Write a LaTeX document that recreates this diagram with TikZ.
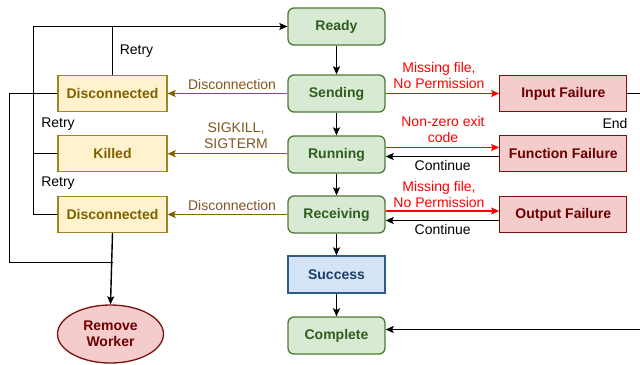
\documentclass[tikz,border=0pt]{standalone}
\usepackage{fontspec}
\setmainfont{Liberation Sans}
\usetikzlibrary{arrows.meta,shapes.geometric}

\definecolor{gfill}{HTML}{D8EAD3}
\definecolor{gline}{HTML}{4E7A35}
\definecolor{gtext}{HTML}{2F5D1E}
\definecolor{yfill}{HTML}{FFF2CC}
\definecolor{yline}{HTML}{A08428}
\definecolor{ytext}{HTML}{7F6000}
\definecolor{rfill}{HTML}{F4CCCC}
\definecolor{rline}{HTML}{7A1010}
\definecolor{rtext}{HTML}{6B0000}
\definecolor{bfill}{HTML}{D4E4F6}
\definecolor{bline}{HTML}{2E5C8A}
\definecolor{btext}{HTML}{1C3F66}
\definecolor{brn}{HTML}{806000}
\definecolor{brntext}{HTML}{7F5520}
\definecolor{alert}{HTML}{FF0000}

\tikzset{
  txt/.style={font=\fontsize{14bp}{16bp}\selectfont, align=center, inner sep=0pt},
  boxbase/.style={txt, font=\fontsize{14bp}{16bp}\selectfont\bfseries, line width=1.3bp},
  state/.style={boxbase, draw=gline, fill=gfill, text=gtext, rounded corners=6bp,
    minimum width=97bp, minimum height=37bp},
  done/.style={boxbase, draw=bline, fill=bfill, text=btext,
    minimum width=97bp, minimum height=37bp},
  lost/.style={boxbase, draw=yline, fill=yfill, text=ytext,
    minimum width=109bp, minimum height=36bp},
  fail/.style={boxbase, draw=rline, fill=rfill, text=rtext,
    minimum width=127bp, minimum height=36bp},
  endpt/.style={boxbase, ellipse, draw=rline, fill=rfill, text=rtext,
    minimum width=106bp, minimum height=58bp},
  wire/.style={line width=1.4bp, draw=black},
  flow/.style={wire, -{Stealth[length=8bp,width=7bp,inset=1.5bp]}},
  brnflow/.style={flow, draw=brn},
  redflow/.style={flow, draw=alert},
}

\begin{document}
\begin{tikzpicture}[x=1bp,y=-1bp]
\useasboundingbox (0,0) rectangle (640,364);

% main pipeline
\node[state] (ready)     at (336.5, 26.5)  {Ready};
\node[state] (sending)   at (336.5, 93.5)  {Sending};
\node[state] (running)   at (336.5, 154.5) {Running};
\node[state] (receiving) at (336.5, 214.5) {Receiving};
\node[done]  (success)   at (336.5, 274.5) {Success};
\node[state] (complete)  at (336.5, 335.5) {Complete};

% worker-side states
\node[lost] (disc1)  at (112.5, 93.5)  {Disconnected};
\node[lost] (killed) at (112.5, 153.7) {Killed};
\node[lost] (disc2)  at (112.5, 214.5) {Disconnected};
\node[endpt] (remove) at (110.5, 334)  {Remove\\Worker};

% task failures
\node[fail] (infail)  at (563.3, 93.5)  {Input Failure};
\node[fail] (funfail) at (563.3, 153.4) {Function Failure};
\node[fail] (outfail) at (563.3, 214.5) {Output Failure};

% helper coordinates
\coordinate (leftbus)  at (33.5, 26.5);
\coordinate (farleft)  at (9.5, 93.5);
\coordinate (merge)    at (112.5, 262.5);
\coordinate (farright) at (652, 93.5);
\coordinate (runout)   at (0, 147.5);
\coordinate (runback)  at (0, 156.5);
\coordinate (recout)   at (0, 211);
\coordinate (recback)  at (0, 220.5);
\coordinate (compin)   at (0, 329.5);

% pipeline arrows
\draw[flow] (ready) -- (sending);
\draw[flow] (sending) -- (running);
\draw[flow] (running) -- (receiving);
\draw[flow] (receiving) -- (success);
\draw[flow] (success) -- (complete);

% disconnections and kills
\draw[brnflow] (sending) -- (disc1);
\draw[brnflow] (running.west |- killed) -- (killed);
\draw[brnflow] (receiving) -- (disc2);

% failures
\draw[redflow] (sending) -- (infail);
\draw[redflow] (running.east |- runout) -- (funfail.west |- runout);
\draw[flow] (funfail.west |- runback) -- (running.east |- runback);
\draw[redflow] (receiving.east |- recout) -- (outfail.west |- recout);
\draw[flow] (outfail.west |- recback) -- (receiving.east |- recback);
\draw[flow] (infail.east) -- (farright) -- (farright |- compin) -- (complete.east |- compin);

% retries
\draw[flow] (disc2.west) -| (leftbus) -- (ready.west);
\draw[wire] (killed.west) -- (leftbus |- killed.west);
\draw[wire] (disc1.north) -- (disc1.north |- ready.west);

% removal
\draw[wire] (disc1.west) -- (farleft) |- (merge);
\draw[flow] (disc2.south) -- (remove.north);

% labels
\node[txt, text=brntext] (lDisc1) at (232, 84)  {Disconnection};
\node[txt, text=brntext] (lKill)  at (236, 136) {SIGKILL,\\SIGTERM};
\node[txt, text=brntext] (lDisc2) at (232, 205) {Disconnection};
\node[txt, text=alert] (lIn)  at (439, 75.5)  {Missing file,\\No Permission};
\node[txt, text=alert] (lFun) at (443, 129)   {Non-zero exit\\code};
\node[txt, text=alert] (lOut) at (439, 194)   {Missing file,\\No Permission};
\node[txt] (lCont1) at (442.7, 165)   {Continue};
\node[txt] (lCont2) at (442.7, 229.7) {Continue};
\node[txt] (lEnd)   at (615, 123)     {End};
\node[txt] (lRetry1) at (136.5, 51)   {Retry};
\node[txt] (lRetry2) at (58, 124.3)   {Retry};
\node[txt] (lRetry3) at (58, 183.3)   {Retry};
\end{tikzpicture}
\end{document}
